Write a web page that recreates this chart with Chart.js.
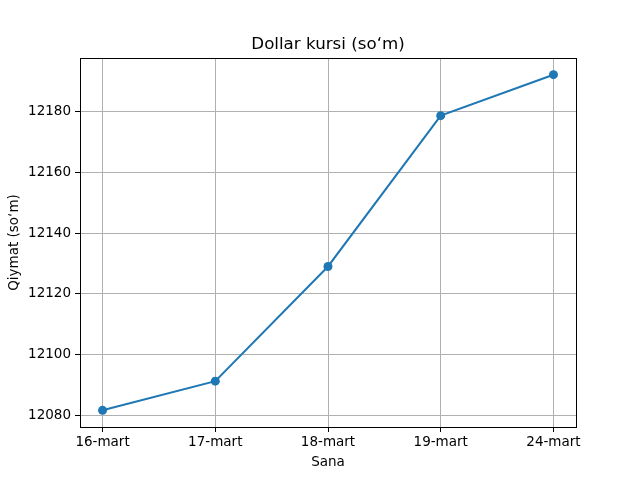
<!DOCTYPE html>
<html>
<head>
<meta charset="utf-8">
<script src="https://cdn.jsdelivr.net/npm/chart.js@4/dist/chart.umd.min.js"></script>
<style>
  html, body { margin: 0; padding: 0; background: #fff; }
  #wrap { width: 640px; height: 480px; }
</style>
</head>
<body>
<div id="wrap"><canvas id="c" width="640" height="480"></canvas></div>
<script>
// ma'lumotlar
const dates = ["16-mart", "17-mart", "18-mart", "19-mart", "24-mart"];
const rates = [12081.6, 12091.2, 12129.0, 12178.7, 12192.2];
const yTicks = [12080, 12100, 12120, 12140, 12160, 12180];

const FONT = "'DejaVu Sans', sans-serif";

// ramka va sarlavha
const framePlugin = {
    id: 'frame',
    afterDraw(chart) {
        const { ctx, chartArea: a } = chart;
        ctx.save();
        ctx.strokeStyle = '#000';
        ctx.lineWidth = 1;
        ctx.strokeRect(Math.round(a.left) + 0.5, Math.round(a.top) + 0.5,
            Math.round(a.right - a.left), Math.round(a.bottom - a.top));
        ctx.fillStyle = '#000';
        ctx.font = '16.7px ' + FONT;
        ctx.textAlign = 'center';
        ctx.textBaseline = 'alphabetic';
        ctx.fillText('Dollar kursi (so‘m)', (a.left + a.right) / 2, 49);
        ctx.restore();
    }
};

const ctx = document.getElementById('c').getContext('2d');
new Chart(ctx, {
    type: 'line',
    data: {
        datasets: [{
            data: rates.map((v, i) => ({ x: i, y: v })),
            borderColor: '#1f77b4',
            backgroundColor: '#1f77b4',
            borderWidth: 2,
            pointRadius: 4.5,
            pointBorderWidth: 0,
            tension: 0,
        }],
    },
    options: {
        responsive: false,
        animation: false,
        layout: { padding: { top: 58, right: 64, left: 6, bottom: 0 } },
        plugins: { legend: { display: false }, tooltip: { enabled: false } },
        scales: {
            x: {
                type: 'linear',
                min: -0.2,
                max: 4.2,
                afterBuildTicks(scale) {
                    scale.ticks = dates.map((d, i) => ({ value: i }));
                },
                afterFit(scale) { scale.height = 53; },
                ticks: {
                    callback: (v) => dates[v],
                    color: '#000',
                    font: { family: FONT, size: 13.5 },
                    padding: 2,
                    maxRotation: 0,
                },
                grid: { color: '#b0b0b0', lineWidth: 1, tickColor: '#000', tickLength: 5 },
                border: { color: '#000', width: 1 },
                title: {
                    display: true,
                    text: 'Sana',
                    color: '#000',
                    font: { family: FONT, size: 13.5 },
                    padding: { top: 0, bottom: 9 },
                },
            },
            y: {
                min: 12076.1,
                max: 12197.7,
                afterBuildTicks(scale) {
                    scale.ticks = yTicks.map((v) => ({ value: v }));
                },
                afterFit(scale) { scale.width = 74; },
                ticks: {
                    callback: (v) => String(v),
                    color: '#000',
                    font: { family: FONT, size: 13.5 },
                    padding: 4,
                },
                grid: { color: '#b0b0b0', lineWidth: 1, tickColor: '#000', tickLength: 5 },
                border: { color: '#000', width: 1 },
                title: {
                    display: true,
                    text: 'Qiymat (so‘m)',
                    color: '#000',
                    font: { family: FONT, size: 13.5 },
                    padding: { top: 0, bottom: 0 },
                },
            },
        },
    },
    plugins: [framePlugin],
});
</script>
</body>
</html>
